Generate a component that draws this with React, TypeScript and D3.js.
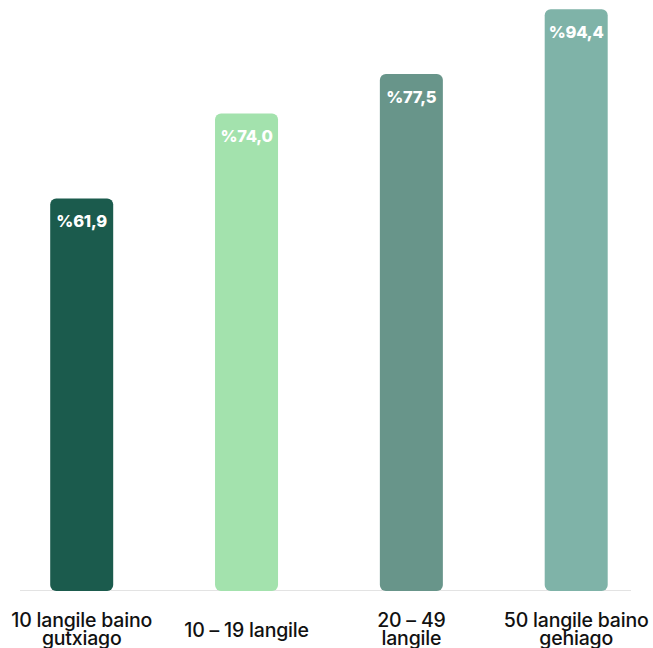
import React from "react";
import * as d3 from "d3";

const categories: string[][] = [
  ["10 langile baino", "gutxiago"],
  ["10 – 19 langile"],
  ["20 – 49", "langile"],
  ["50 langile baino", "gehiago"],
];
const valueLabels = ["%61,9", "%74,0", "%77,5", "%94,4"];
// bar lengths as drawn in the reference
const barValues = [63.7, 77.5, 83.9, 94.4];
const colors = ["#1b5b4d", "#a3e2ad", "#68958a", "#7fb3a8"];

const W = 653;
const H = 648;

export default function App() {
  const ids = categories.map((_, i) => String(i));
  const x = d3.scalePoint<string>().domain(ids).range([81.7, 576.2]).padding(0);
  const y = d3.scaleLinear().domain([0, 94.4]).range([591, 9.3]);
  const bw = 63;
  const r = 6;

  return (
    <svg
      width={W}
      height={H}
      style={{ position: "fixed", left: 0, top: 0, background: "#fff" }}
      fontFamily="Inter, 'Noto Sans', sans-serif"
    >
      <line x1={20} x2={631} y1={590.5} y2={590.5} stroke="#e3e3e3" strokeWidth={1.2} />
      {barValues.map((v, i) => {
        const cx = x(String(i))!;
        const top = y(v);
        const h = y(0) - top;
        return (
          <g key={i}>
            <rect x={cx - bw / 2} y={top} width={bw} height={h} rx={r} ry={r} fill={colors[i]} />
            <text
              x={cx}
              y={top + 29}
              textAnchor="middle"
              fill="#fff"
              fontSize={16.5}
              fontWeight={800}
              letterSpacing={-0.2}
            >
              {valueLabels[i]}
            </text>
          </g>
        );
      })}
      {categories.map((lines, i) => {
        const cx = x(String(i))!;
        const lh = 17.7;
        const first = 636.5 - ((lines.length - 1) * lh) / 2 + (lines.length > 1 ? -0.6 : 0);
        return (
          <text key={i} textAnchor="middle" fill="#111" fontSize={19.5} fontWeight={500} letterSpacing={-0.2}>
            {lines.map((l, j) => (
              <tspan key={j} x={cx} y={first + j * lh}>
                {l}
              </tspan>
            ))}
          </text>
        );
      })}
    </svg>
  );
}
